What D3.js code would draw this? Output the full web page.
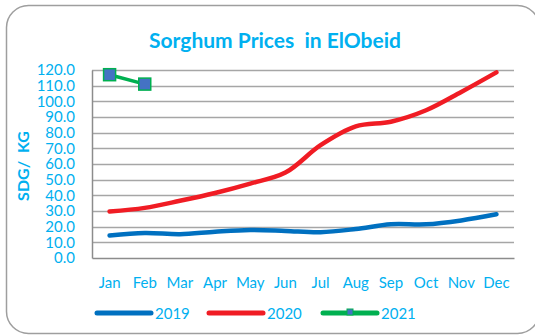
<!DOCTYPE html>
<html>
<head>
<meta charset="utf-8">
<script src="https://cdn.jsdelivr.net/npm/d3@7/dist/d3.min.js"></script>
<style>
  html, body { margin: 0; padding: 0; background: #fff; }
  svg { display: block; font-family: Lato, "Open Sans", sans-serif; }
</style>
</head>
<body>
<svg id="chart" width="535" height="335"></svg>
<script>
// Monthly sorghum prices (SDG per kg) in ElObeid
const months = ["Jan", "Feb", "Mar", "Apr", "May", "Jun", "Jul", "Aug", "Sep", "Oct", "Nov", "Dec"];
const prices2019 = [14.3, 16.0, 15.2, 16.8, 17.9, 17.3, 16.5, 18.5, 21.5, 21.5, 24.0, 27.9];
const prices2020 = [29.7, 32.0, 36.5, 41.5, 47.5, 54.5, 72.0, 84.0, 87.0, 94.3, 106.0, 118.5];
const prices2021 = [117.0, 111.0];
const yTicks = d3.range(0, 121, 10);

const series = [
  { name: "2019", values: prices2019, color: "#0070C0", width: 4.5, markers: false },
  { name: "2020", values: prices2020, color: "#F01C24", width: 4.5, markers: false },
  { name: "2021", values: prices2021, color: "#00B050", width: 3.5, markers: true }
];

const svg = d3.select("#chart");
const cyan = "#00B0F0";
const grid = "#A6A6A6";

// Rounded chart frame (runs slightly past the right/bottom edges)
svg.append("rect")
  .attr("x", 6.5).attr("y", 5.5)
  .attr("width", 533).attr("height", 328)
  .attr("rx", 22).attr("ry", 22)
  .attr("fill", "#fff").attr("stroke", "#9E9E9E").attr("stroke-width", 1.5);

const plot = { left: 92, right: 514, top: 70, bottom: 258 };

const x = d3.scaleBand().domain(months).range([plot.left, plot.right]);
const y = d3.scaleLinear().domain([0, 120]).range([plot.bottom, plot.top]);
const cx = m => x(m) + x.bandwidth() / 2;

// Title
svg.append("text")
  .attr("x", 275).attr("y", 48)
  .attr("text-anchor", "middle")
  .attr("fill", cyan)
  .attr("font-weight", "bold")
  .attr("font-size", 21)
  .attr("xml:space", "preserve")
  .text("Sorghum Prices  in ElObeid");

// Horizontal gridlines
svg.append("g")
  .selectAll("line")
  .data(yTicks.filter(t => t > 0))
  .join("line")
  .attr("x1", plot.left).attr("x2", plot.right)
  .attr("y1", d => Math.round(y(d)) + 0.5).attr("y2", d => Math.round(y(d)) + 0.5)
  .attr("stroke", grid).attr("stroke-width", 1.5);

// Y axis
const yAxis = svg.append("g")
  .attr("transform", `translate(${plot.left},0)`)
  .call(d3.axisLeft(y).tickValues(yTicks).tickFormat(d3.format(".1f")).tickSize(0).tickPadding(17));
yAxis.select(".domain").attr("stroke", "#8C8C8C").attr("stroke-width", 1.5);
yAxis.selectAll("text").attr("fill", cyan).attr("font-size", 15).attr("font-family", "Lato, sans-serif");

// X axis
const xAxis = svg.append("g")
  .attr("transform", `translate(0,${plot.bottom})`)
  .call(d3.axisBottom(x).tickSize(0).tickPadding(19));
xAxis.select(".domain").attr("stroke", "#8C8C8C").attr("stroke-width", 1.5);
xAxis.selectAll("text").attr("fill", cyan).attr("font-size", 15).attr("font-family", "Lato, sans-serif");

// Y axis title
svg.append("text")
  .attr("transform", `translate(29,166) rotate(-90)`)
  .attr("text-anchor", "middle")
  .attr("fill", cyan)
  .attr("font-weight", "bold")
  .attr("font-size", 16)
  .attr("xml:space", "preserve")
  .text("SDG/  KG");

// Series lines
const smooth = d3.line()
  .x((d, i) => cx(months[i]))
  .y(d => y(d))
  .curve(d3.curveCatmullRom.alpha(0.5));
const straight = d3.line()
  .x((d, i) => cx(months[i]))
  .y(d => y(d));

series.forEach(s => {
  svg.append("path")
    .datum(s.values)
    .attr("d", s.markers ? straight : smooth)
    .attr("fill", "none")
    .attr("stroke", s.color)
    .attr("stroke-width", s.width)
    .attr("stroke-linecap", "round")
    .attr("stroke-linejoin", "round");
  if (s.markers) {
    svg.append("g")
      .selectAll("rect")
      .data(s.values)
      .join("rect")
      .attr("x", (d, i) => cx(months[i]) - 6)
      .attr("y", d => y(d) - 6)
      .attr("width", 12).attr("height", 12)
      .attr("fill", "#4472C4")
      .attr("stroke", s.color)
      .attr("stroke-width", 1.5);
  }
});

// Legend
const legendX = [97, 209, 323];
const legend = svg.append("g");
series.forEach((s, i) => {
  const g = legend.append("g").attr("transform", `translate(${legendX[i]},313)`);
  g.append("line")
    .attr("x1", 0).attr("x2", 54)
    .attr("y1", 0).attr("y2", 0)
    .attr("stroke", s.color).attr("stroke-width", 5)
    .attr("stroke-linecap", "round");
  if (s.markers) {
    g.append("rect")
      .attr("x", 24).attr("y", -4).attr("width", 6).attr("height", 6)
      .attr("fill", "#4472C4").attr("stroke", s.color).attr("stroke-width", 1);
  }
  g.append("text")
    .attr("x", 58).attr("y", 6)
    .attr("fill", cyan)
    .attr("font-size", 15)
    .text(s.name);
});
</script>
</body>
</html>
